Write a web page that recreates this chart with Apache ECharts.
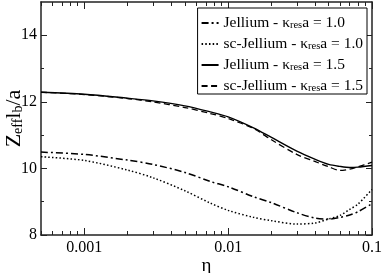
<!DOCTYPE html>
<html>
<head>
<meta charset="utf-8">
<script src="https://cdn.jsdelivr.net/npm/echarts@6/dist/echarts.min.js"></script>
<style>html,body{margin:0;padding:0;background:#fff;}#c{width:382px;height:273px;}</style>
</head>
<body>
<div id="c"></div>
<script>
const eta = [0.0005, 0.001, 0.002, 0.003, 0.005, 0.0075, 0.01, 0.015, 0.02, 0.03, 0.04, 0.05, 0.06, 0.07, 0.08, 0.1];
const jel10   = [10.49, 10.42, 10.25, 10.12, 9.88, 9.61, 9.45, 9.15, 8.97, 8.67, 8.51, 8.48, 8.53, 8.60, 8.70, 8.94];
const scJel10 = [10.35, 10.24, 9.95, 9.72, 9.33, 8.96, 8.74, 8.53, 8.43, 8.33, 8.36, 8.48, 8.59, 8.77, 8.93, 9.37];
const jel15   = [12.29, 12.23, 12.11, 12.03, 11.88, 11.70, 11.55, 11.22, 10.93, 10.52, 10.28, 10.12, 10.06, 10.03, 10.04, 10.09];
const scJel15 = [12.29, 12.22, 12.10, 12.00, 11.83, 11.65, 11.50, 11.20, 10.86, 10.42, 10.21, 10.05, 9.94, 9.98, 10.05, 10.19];
const names = ['Jellium - κres a = 1.0', 'sc-Jellium - κres a = 1.0', 'Jellium - κres a = 1.5', 'sc-Jellium - κres a = 1.5'];
const xMajor = [0.001, 0.01, 0.1];
const xMinor = [0.0005, 0.0006, 0.0007, 0.0008, 0.0009, 0.002, 0.003, 0.004, 0.005, 0.006, 0.007, 0.008, 0.009, 0.02, 0.03, 0.04, 0.05, 0.06, 0.07, 0.08, 0.09];
const yMajor = [8, 10, 12, 14];
const yMinor = [9, 11, 13];

const FONT = 'Liberation Serif';
const AX = '#222';
const pair = (ys) => eta.map((x, i) => [x, ys[i]]);

function xAx(pos, ticks, len, showLine, labels) {
  return {
    type: 'log', logBase: 10, min: 0.0005, max: 0.1, position: pos,
    axisLine: { show: showLine, lineStyle: { color: AX, width: 1.5 } },
    axisTick: { show: true, inside: true, length: len, customValues: ticks, lineStyle: { color: AX, width: 1 } },
    axisLabel: labels ? { show: true, customValues: xMajor, margin: 5, color: '#000', fontFamily: FONT, fontSize: 16,
      formatter: v => String(Number(Number(v).toPrecision(6))) } : { show: false },
    splitLine: { show: false }, minorTick: { show: false }
  };
}
function yAx(pos, ticks, len, showLine, labels) {
  return {
    type: 'value', min: 8, max: 15, position: pos,
    axisLine: { show: showLine, lineStyle: { color: AX, width: 1.5 } },
    axisTick: { show: true, inside: true, length: len, customValues: ticks, lineStyle: { color: AX, width: 1 } },
    axisLabel: labels ? { show: true, customValues: yMajor, margin: 4, color: '#000', fontFamily: FONT, fontSize: 16 } : { show: false },
    splitLine: { show: false }
  };
}

const xs = [xAx('bottom', xMajor, 7, true, true), xAx('bottom', xMinor, 4, false, false),
            xAx('top', xMajor, 7, true, false), xAx('top', xMinor, 4, false, false)];
Object.assign(xs[0], { name: 'η', nameLocation: 'middle', nameGap: 22, nameMoveOverlap: false,
  nameTextStyle: { fontFamily: FONT, fontSize: 19, color: '#000' } });
const ys = [yAx('left', yMajor, 6, true, true), yAx('left', yMinor, 3, false, false),
            yAx('right', yMajor, 6, true, false), yAx('right', yMinor, 3, false, false)];
Object.assign(ys[0], { name: '{z|Z}{s|eff}{z|l}{s|b}{z|/a}', nameLocation: 'middle', nameGap: 16, nameRotate: 90,
  nameMoveOverlap: false,
  nameTextStyle: { fontFamily: FONT, color: '#000', rich: {
    z: { fontFamily: FONT, fontSize: 22, color: '#000', lineHeight: 22, verticalAlign: 'bottom' },
    s: { fontFamily: FONT, fontSize: 14, color: '#000', lineHeight: 13, verticalAlign: 'bottom', padding: [14, 0, 0, 0] } } } });

const styles = [
  { type: [7, 3, 2, 3], width: 1.5 },
  { type: [1.5, 2.2], width: 1.5 },
  { type: 'solid', width: 1.4 },
  { type: [6, 3.5], width: 1.3 }
];
const datas = [jel10, scJel10, jel15, scJel15];

const chart = echarts.init(document.getElementById('c'), null, { renderer: 'canvas' });
chart.setOption({
  animation: false,
  backgroundColor: '#fff',
  grid: { left: 41, right: 10, top: 2, bottom: 38, outerBoundsMode: 'none', containLabel: false },
  xAxis: xs,
  yAxis: ys,
  legend: {
    orient: 'vertical', right: 15, top: 8,
    data: names,
    borderColor: '#000', borderWidth: 1, padding: [0, 4, 0, 3],
    itemWidth: 17, itemHeight: 10, itemGap: -2,
    backgroundColor: '#fff',
    itemStyle: { opacity: 0 },
    formatter: n => n.replace('κres a', 'κ{s|res}a'),
    textStyle: { fontFamily: FONT, fontSize: 15.5, color: '#000', lineHeight: 16,
      rich: { s: { fontFamily: FONT, fontSize: 10.5, color: '#000', lineHeight: 10, verticalAlign: 'bottom', padding: [12, 0, 0, 0] } } }
  },
  series: datas.map((d, i) => ({
    name: names[i], type: 'line', xAxisIndex: 0, yAxisIndex: 0,
    data: pair(d), showSymbol: false, symbol: 'none', smooth: 0.3,
    lineStyle: Object.assign({ color: '#000' }, styles[i]),
    itemStyle: { color: '#000' }
  }))
});
</script>
</body>
</html>
